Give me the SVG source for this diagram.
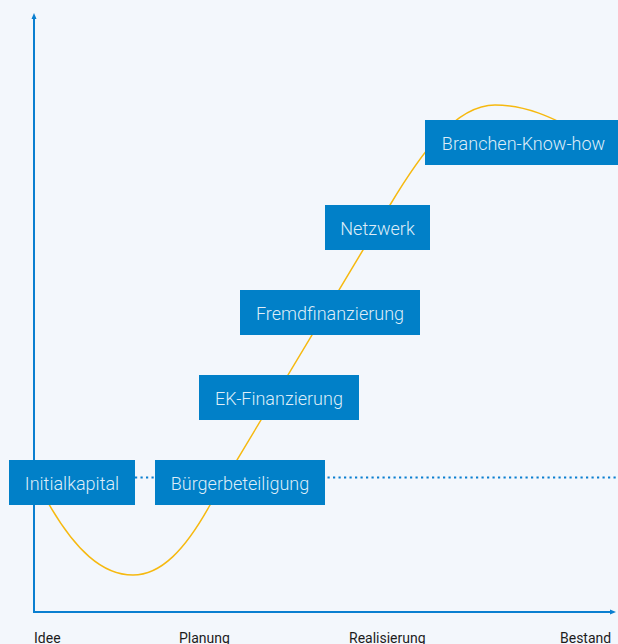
<svg xmlns="http://www.w3.org/2000/svg" width="618" height="644" viewBox="0 0 618 644">
  <style>
    .box { fill: #0180c8; }
    .lbl { font-family: Roboto, "Liberation Sans", sans-serif; font-size: 18px; font-weight: 300; fill: #deedf8; text-anchor: middle; }
    .ax { stroke: #0a7fd0; stroke-width: 2; fill: none; }
    .phase { font-family: Roboto, "Liberation Sans", sans-serif; font-size: 14px; fill: #1c1c1c; }
  </style>
  <defs>
    <marker id="arr" markerWidth="6" markerHeight="6" refX="3" refY="3" orient="auto" markerUnits="userSpaceOnUse">
      <path d="M0,0.5 L6,3 L0,5.5 Z" fill="#0a7fd0"/>
    </marker>
  </defs>
  <rect width="618" height="644" fill="#f3f7fc"/>

  <g id="connectors">
    <!-- axes -->
    <line class="ax" x1="34" y1="612" x2="34" y2="16" marker-end="url(#arr)"/>
    <line class="ax" x1="33" y1="612" x2="613" y2="612" marker-end="url(#arr)"/>
    <!-- dotted baseline -->
    <line x1="135" y1="477.5" x2="616" y2="477.5" stroke="#0a7fd0" stroke-width="2.2" stroke-dasharray="2.2 3.3"/>
    <!-- development curve -->
    <path d="M40 488 C75 555 105 575 133 575 S185 550 210 505 L390 205 C420 155 455 105 495 105 C525 105 550 116 585 135" fill="none" stroke="#f6b910" stroke-width="1.5"/>
  </g>

  <g id="initialkapital">
    <rect class="box" x="9" y="460" width="126" height="45"/>
    <text class="lbl" x="72" y="489.5">Initialkapital</text>
  </g>
  <g id="buergerbeteiligung">
    <rect class="box" x="155" y="460" width="170" height="45"/>
    <text class="lbl" x="240" y="489.5">Bürgerbeteiligung</text>
  </g>
  <g id="ek-finanzierung">
    <rect class="box" x="199" y="375" width="160" height="45"/>
    <text class="lbl" x="279" y="404.5">EK-Finanzierung</text>
  </g>
  <g id="fremdfinanzierung">
    <rect class="box" x="240" y="290" width="180" height="45"/>
    <text class="lbl" x="330" y="319.5">Fremdfinanzierung</text>
  </g>
  <g id="netzwerk">
    <rect class="box" x="325" y="205" width="105" height="45"/>
    <text class="lbl" x="377.5" y="234.5">Netzwerk</text>
  </g>
  <g id="branchen-know-how">
    <rect class="box" x="425" y="120" width="193" height="45"/>
    <text class="lbl" x="523.5" y="149.5">Branchen-Know-how</text>
  </g>

  <g id="phases">
    <text class="phase" x="34" y="643">Idee</text>
    <text class="phase" x="179" y="643">Planung</text>
    <text class="phase" x="349" y="643">Realisierung</text>
    <text class="phase" x="560" y="643">Bestand</text>
  </g>
</svg>
